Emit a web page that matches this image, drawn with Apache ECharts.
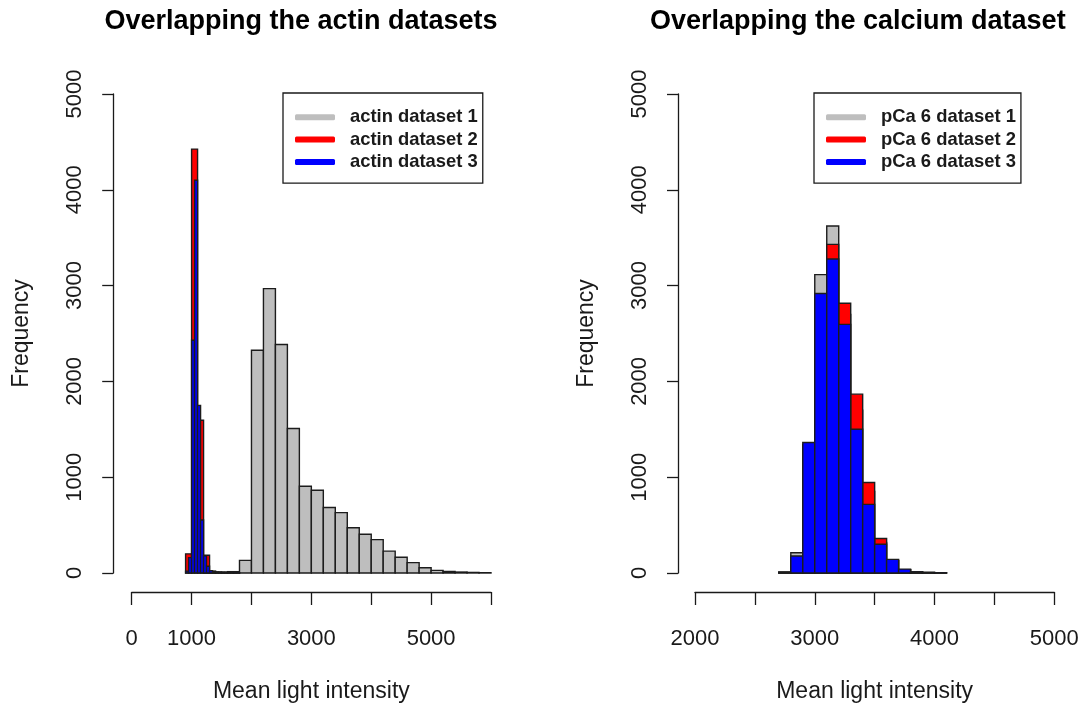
<!DOCTYPE html>
<html>
<head>
<meta charset="utf-8">
<script src="https://cdn.jsdelivr.net/npm/echarts@6.0.0/dist/echarts.min.js"></script>
<style>
  html, body { margin: 0; padding: 0; background: #fff; }
  #chart { width: 1083px; height: 708px; }
</style>
</head>
<body>
<div id="chart"></div>
<script>
// ---- actin panel: three overlaid histograms (bin edges + counts) ----
const actinEdges1 = [1200, 1400, 1600, 1800, 2000, 2200, 2400, 2600, 2800, 3000, 3200, 3400, 3600,
                     3800, 4000, 4200, 4400, 4600, 4800, 5000, 5200, 5400, 5600, 5800, 6000];
const actinCounts1 = [8, 10, 14, 132, 2325, 2968, 2385, 1508, 905, 864, 684, 630, 472,
                      405, 348, 228, 164, 108, 55, 27, 16, 10, 6, 3];

const actinEdges2 = [900, 1000, 1100, 1200, 1300, 1400, 1500, 1600, 1700, 1800];
const actinCounts2 = [200, 4425, 1595, 185, 20, 8, 5, 3, 2];

const actinEdges3 = [900, 950, 1000, 1050, 1100, 1150, 1200, 1250, 1300, 1350, 1400, 1450, 1500,
                     1550, 1600, 1650, 1700, 1750, 1800];
const actinCounts3 = [20, 160, 2430, 4100, 1750, 553, 180, 70, 25, 15, 10, 8, 6, 5, 4, 3, 2, 2];

// ---- calcium panel: pCa 6 datasets, shared 100-wide bins ----
const calciumEdges = [2700, 2800, 2900, 3000, 3100, 3200, 3300, 3400, 3500, 3600, 3700, 3800, 3900, 4000, 4100];
const calciumCounts1 = [10, 212, 1340, 3115, 3622, 2700, 1700, 850, 320, 130, 35, 12, 6, 3];
const calciumCounts2 = [8, 165, 1330, 2880, 3430, 2815, 1867, 945, 360, 128, 34, 10, 5, 2];
const calciumCounts3 = [8, 178, 1362, 2918, 3277, 2595, 1500, 716, 300, 142, 40, 12, 5, 2];

// ---- axis ticks ----
const actinTicksShown = [0, 1000, 3000, 5000];
const calciumTicksShown = [2000, 3000, 4000, 5000];
const freqTicks = [0, 1000, 2000, 3000, 4000, 5000];

const actinNames = ['actin dataset 1', 'actin dataset 2', 'actin dataset 3'];
const calciumNames = ['pCa 6 dataset 1', 'pCa 6 dataset 2', 'pCa 6 dataset 3'];
const fillColors = ['#bebebe', '#ff0000', '#0000ff'];

const FONT = '"Liberation Sans", Arial, Helvetica, sans-serif';
const INK = '#1a1a1a';

// pair edges with counts -> [left, right, count]
function bins(edges, counts) {
  return counts.map((c, i) => [edges[i], edges[i + 1], c]);
}

function histSeries(name, gridIndex, data, color) {
  return {
    type: 'custom',
    name: name,
    xAxisIndex: gridIndex,
    yAxisIndex: gridIndex,
    itemStyle: { color: color },
    data: data,
    encode: { x: [0, 1], y: 2 },
    renderItem: function (params, api) {
      const p0 = api.coord([api.value(0), api.value(2)]);
      const p1 = api.coord([api.value(1), 0]);
      return {
        type: 'rect',
        shape: { x: p0[0], y: p0[1], width: p1[0] - p0[0], height: p1[1] - p0[1] },
        style: { fill: color, stroke: '#1c1c1c', lineWidth: 1.4 }
      };
    }
  };
}

function xAxisFor(gridIndex, min, max, interval, shown) {
  return {
    type: 'value', gridIndex: gridIndex, min: min, max: max, interval: interval,
    offset: 19,
    name: 'Mean light intensity', nameLocation: 'middle', nameGap: 88,
    nameTextStyle: { fontFamily: FONT, fontSize: 23, color: INK },
    axisLine: { show: true, onZero: false, lineStyle: { color: INK, width: 1.3 } },
    axisTick: { show: true, length: 13, lineStyle: { color: INK, width: 1.3 } },
    axisLabel: {
      margin: 36, fontFamily: FONT, fontSize: 22, color: INK,
      formatter: v => (shown.indexOf(v) >= 0 ? String(v) : '')
    },
    splitLine: { show: false }
  };
}

function yAxisFor(gridIndex, off) {
  return {
    type: 'value', gridIndex: gridIndex, min: 0, max: 5000, interval: 1000,
    offset: off,
    name: 'Frequency', nameLocation: 'middle', nameGap: 80,
    nameTextStyle: { fontFamily: FONT, fontSize: 23, color: INK },
    axisLine: { show: true, onZero: false, lineStyle: { color: INK, width: 1.3 } },
    axisTick: { show: true, length: 11, lineStyle: { color: INK, width: 1.3 } },
    axisLabel: {
      rotate: 90, margin: 27, fontFamily: FONT, fontSize: 22, color: INK,
      formatter: v => (freqTicks.indexOf(v) >= 0 ? String(v) : '')
    },
    splitLine: { show: false }
  };
}

function legendFor(names, left) {
  return {
    data: names, orient: 'vertical', left: left, top: 93,
    padding: [15, 5, 12, 12], itemGap: 4,
    itemWidth: 40, itemHeight: 6, icon: 'roundRect',
    borderColor: INK, borderWidth: 1.3, borderRadius: 0,
    selectedMode: false,
    textStyle: { fontFamily: FONT, fontSize: 18.4, fontWeight: 'bold', color: INK,
                 lineHeight: 18.4, padding: [0, 0, 0, 10] }
  };
}

const chart = echarts.init(document.getElementById('chart'), null, { renderer: 'canvas' });
chart.setOption({
  animation: false,
  backgroundColor: '#fff',
  title: [
    { text: 'Overlapping the actin datasets', left: 301, top: 8, textAlign: 'center', padding: 0,
      textStyle: { fontFamily: FONT, fontSize: 27, fontWeight: 'bold', color: '#000' } },
    { text: 'Overlapping the calcium dataset', left: 650, top: 8, padding: 0,
      textStyle: { fontFamily: FONT, fontSize: 27, fontWeight: 'bold', color: '#000' } }
  ],
  grid: [
    { left: 131.7, top: 94, width: 359.3, height: 479 },
    { left: 695, top: 94, width: 359.3, height: 479 }
  ],
  xAxis: [
    xAxisFor(0, 0, 6000, 1000, actinTicksShown),
    xAxisFor(1, 2000, 5000, 500, calciumTicksShown)
  ],
  yAxis: [yAxisFor(0, 18.5), yAxisFor(1, 17)],
  legend: [legendFor(actinNames, 283), legendFor(calciumNames, 814)],
  series: [
    histSeries(actinNames[0], 0, bins(actinEdges1, actinCounts1), fillColors[0]),
    histSeries(actinNames[1], 0, bins(actinEdges2, actinCounts2), fillColors[1]),
    histSeries(actinNames[2], 0, bins(actinEdges3, actinCounts3), fillColors[2]),
    histSeries(calciumNames[0], 1, bins(calciumEdges, calciumCounts1), fillColors[0]),
    histSeries(calciumNames[1], 1, bins(calciumEdges, calciumCounts2), fillColors[1]),
    histSeries(calciumNames[2], 1, bins(calciumEdges, calciumCounts3), fillColors[2])
  ]
});
</script>
</body>
</html>
